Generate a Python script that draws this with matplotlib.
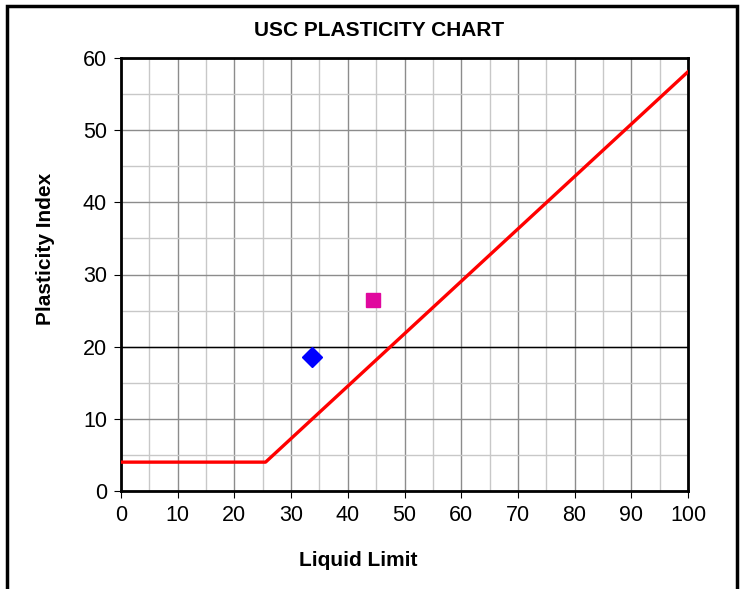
import matplotlib.pyplot as plt
import matplotlib.patches as mpatches
import numpy as np

plt.rcParams['font.family'] = ['Liberation Sans', 'DejaVu Sans']

# A-line
aline_ll = [0, 25.5, 100]
aline_pi = [4, 4, 58.1]

# samples
sample1_ll = [33.7]
sample1_pi = [18.5]
sample2_ll = [44.4]
sample2_pi = [26.5]

xticks = np.arange(0, 101, 10)
yticks = np.arange(0, 61, 10)

fig = plt.figure(figsize=(7.44, 5.89), dpi=100)
ax = fig.add_axes([121/744, 1 - 491/589, (688 - 121)/744, (491 - 58)/589])

# outer chart border
fig.add_artist(mpatches.Rectangle((7/744, -0.05), (737 - 7)/744, 1.05 - 6/589,
                                  transform=fig.transFigure, fill=False,
                                  edgecolor='black', linewidth=2.5))

ax.set_xlim(0, 100)
ax.set_ylim(0, 60)
ax.set_xticks(xticks)
ax.set_yticks(yticks)
ax.set_xticks(np.arange(5, 100, 10), minor=True)
ax.set_yticks(np.arange(5, 60, 10), minor=True)
ax.grid(True, which='major', color='#8c8c8c', linewidth=1.0)
ax.grid(True, which='minor', color='#c8c8c8', linewidth=1.0)
ax.tick_params(which='minor', length=0)
ax.tick_params(which='major', direction='out', length=5, width=0.8,
               labelsize=15.5, pad=5)
ax.axhline(20, color='black', linewidth=1.0, zorder=1.5)
ax.set_axisbelow(True)

for s in ax.spines.values():
    s.set_linewidth(2.0)
    s.set_color('black')

ax.plot(aline_ll, aline_pi, color='#ff0000', linewidth=2.4, zorder=3)
ax.plot(sample1_ll, sample1_pi, linestyle='none', marker='D', markersize=10.5,
        color='#0000ff', zorder=4)
ax.plot(sample2_ll, sample2_pi, linestyle='none', marker='s', markersize=9.5,
        color='#e0089e', zorder=4)

fig.text(379/744, 1 - 31/589, 'USC PLASTICITY CHART', ha='center', va='center',
         fontsize=15, fontweight='bold')
fig.text(358/744, 1 - 561/589, 'Liquid Limit', ha='center', va='center',
         fontsize=15, fontweight='bold')
fig.text(46/744, 1 - 249/589, 'Plasticity Index', ha='center', va='center',
         fontsize=15, fontweight='bold', rotation=90)

fig.savefig('out.png', dpi=100)
